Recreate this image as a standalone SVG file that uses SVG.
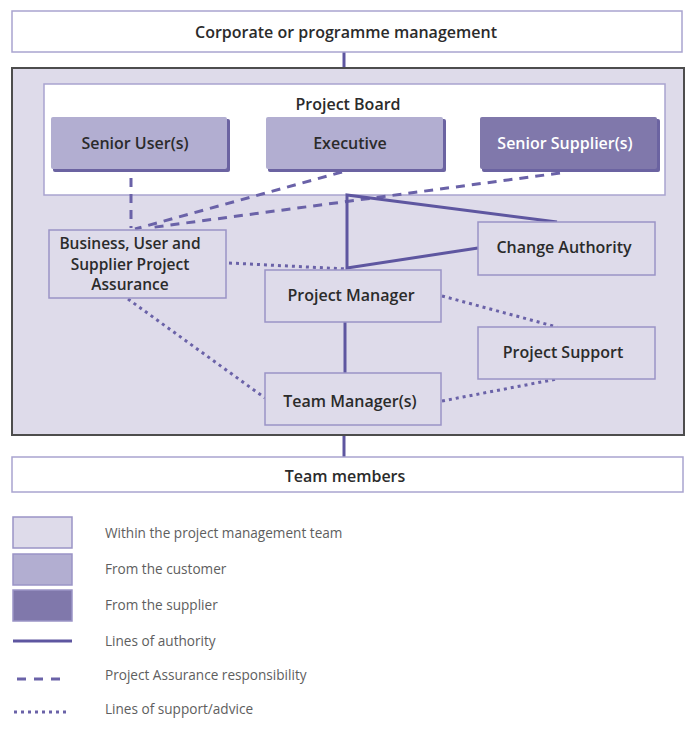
<svg xmlns="http://www.w3.org/2000/svg" width="700" height="729" viewBox="0 0 700 729">
<style>
text{font-family:"Open Sans","Noto Sans","Liberation Sans",sans-serif;font-weight:600;fill:#2b2b2b;text-anchor:middle;dominant-baseline:central}
.t{font-size:16px}
.t2{font-size:15.5px}
.lg{font-size:13.6px;font-weight:400;fill:#5e5e5e;text-anchor:start}
.wbox{fill:#fff;stroke:#a9a4cf;stroke-width:1.5}
.node{fill:#dedbea;stroke:#9a94c6;stroke-width:1.5}
.cust{fill:#b2aed1}
.supp{fill:#8078ab}
.shade{fill:#6b63a1}
.auth{stroke:#5e56a0;stroke-width:3;fill:none}
.dash{stroke:#6a62a8;stroke-width:3;fill:none;stroke-dasharray:9 7}
.dot{stroke:#6a62a8;stroke-width:3;fill:none;stroke-dasharray:3 4}
</style>
<g id="connectors">
<line class="auth" x1="344" y1="52" x2="344" y2="68"/>
<line class="auth" x1="344" y1="435" x2="344" y2="457"/>
</g>
<g id="corporate">
<rect class="wbox" x="12" y="11" width="670" height="41"/>
<text class="t" x="346" y="32">Corporate or programme management</text>
</g>
<g id="project-team">
<rect x="12" y="68" width="672" height="367" fill="#dedbea" stroke="#4d4d4d" stroke-width="2"/>
</g>
<g id="project-board">
<rect class="wbox" x="44" y="84" width="621" height="111"/>
<text class="t" x="348" y="104">Project Board</text>
</g>
<g id="senior-user">
<rect class="shade" x="53" y="119" width="177" height="53" rx="2"/>
<rect class="cust" x="51" y="117" width="176" height="52" rx="2"/>
<text class="t" x="135" y="143">Senior User(s)</text>
</g>
<g id="executive">
<rect class="shade" x="268" y="119" width="178" height="53" rx="2"/>
<rect class="cust" x="266" y="117" width="177" height="52" rx="2"/>
<text class="t" x="350" y="143">Executive</text>
</g>
<g id="senior-supplier">
<rect class="shade" x="482" y="119" width="178" height="53" rx="2"/>
<rect class="supp" x="480" y="117" width="177" height="52" rx="2"/>
<text class="t" x="565" y="143" style="fill:#fff">Senior Supplier(s)</text>
</g>
<g id="lines">
<line class="dash" x1="131" y1="178" x2="131" y2="228"/>
<line class="dash" x1="342" y1="172" x2="135" y2="229"/>
<line class="dash" x1="560" y1="173" x2="148" y2="228"/>
<polyline class="auth" points="557,222 347,195 347,268 478,248"/>
<line class="auth" x1="345" y1="322" x2="345" y2="373"/>
<line class="dot" x1="229" y1="263" x2="347" y2="269"/>
<line class="dot" x1="128" y1="299" x2="265" y2="398"/>
<line class="dot" x1="442" y1="296" x2="557" y2="327"/>
<line class="dot" x1="442" y1="401" x2="557" y2="379"/>
</g>
<g id="assurance">
<rect class="node" x="49" y="230" width="177" height="68"/>
<text class="t2" x="130" y="243">Business, User and</text>
<text class="t2" x="130" y="263.5">Supplier Project</text>
<text class="t2" x="130" y="284">Assurance</text>
</g>
<g id="change-authority">
<rect class="node" x="478" y="222" width="177" height="53"/>
<text class="t" x="564" y="247">Change Authority</text>
</g>
<g id="project-manager">
<rect class="node" x="265" y="270" width="176" height="52"/>
<text class="t" x="351" y="295">Project Manager</text>
</g>
<g id="project-support">
<rect class="node" x="478" y="327" width="177" height="52"/>
<text class="t" x="563" y="352">Project Support</text>
</g>
<g id="team-manager">
<rect class="node" x="265" y="373" width="176" height="52"/>
<text class="t" x="350" y="401">Team Manager(s)</text>
</g>
<g id="team-members">
<rect class="wbox" x="12" y="457" width="671" height="35"/>
<text class="t" x="345" y="476">Team members</text>
</g>
<g id="legend">
<rect class="node" x="13" y="517" width="59" height="31"/>
<rect x="13" y="554" width="59" height="31" fill="#b2aed1" stroke="#9a94c6" stroke-width="1.5"/>
<rect x="13" y="590" width="59" height="31" fill="#8078ab" stroke="#9a94c6" stroke-width="1.5"/>
<line class="auth" x1="13" y1="641" x2="72" y2="641"/>
<line class="dash" x1="17" y1="679" x2="68" y2="679" style="stroke-dasharray:9 8"/>
<line class="dot" x1="14" y1="712" x2="70" y2="712"/>
<text class="lg" x="105" y="532">Within the project management team</text>
<text class="lg" x="105" y="568">From the customer</text>
<text class="lg" x="105" y="604">From the supplier</text>
<text class="lg" x="105" y="640">Lines of authority</text>
<text class="lg" x="105" y="674">Project Assurance responsibility</text>
<text class="lg" x="105" y="708">Lines of support/advice</text>
</g>
</svg>
